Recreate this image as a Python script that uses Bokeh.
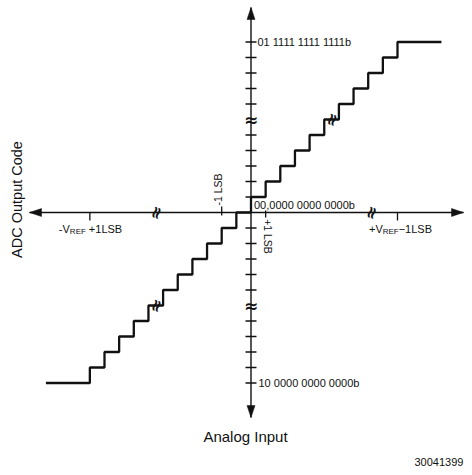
import math
from bokeh.plotting import figure
from bokeh.models import Range1d
from bokeh.embed import file_html
from bokeh.resources import INLINE
from bokeh.core.properties import value

# ---------------- data (schematic units: x in LSB steps, y in codes) ----------------
step_x = [-14, -11, -10, -9, -8, -7, -6, -5, -4, -3, -2, -1, 0, 1, 2, 3, 4, 5, 6, 7, 8, 9, 10, 13]
step_code = [-11, -10, -9, -8, -7, -6, -5, -4, -3, -2, -1, 0, 1, 2, 3, 4, 5, 6, 7, 8, 9, 10, 11, 11]

code_ticks = [-11, -10, -9, -8, -7, -5, -4, -3, -2, -1, 1, 2, 3, 4, 5, 7, 8, 9, 10, 11]
code_labels = ["01 1111 1111 1111b", "00,0000 0000 0000b", "10 0000 0000 0000b"]
code_label_levels = [11, 0, -11]

input_ticks = [-11, -2, 1, 10]

axis_break_x = [-6.5, 8.2]
axis_break_code = [6, -6]
line_break_x = [5.5, -6.5]
line_break_code = [6, -6]

# ---------------- layout ----------------
W, H = 464, 467
SX, SY = 14.65, 15.5          # px per unit
OX, OY = 250.5, 212.0          # origin in plot px (from left / top)

def ux(px):   # plot px -> x data
    return (px - OX) / SX

def uy(py):   # plot px (from top) -> y data
    return (OY - py) / SY

p = figure(width=W, height=H, output_backend="svg", toolbar_location=None,
           x_range=Range1d(ux(0), ux(W)), y_range=Range1d(uy(H), uy(0)),
           min_border=0, min_border_left=0, min_border_right=0,
           min_border_top=0, min_border_bottom=0)
p.axis.visible = False
p.grid.visible = False
p.outline_line_color = None
p.background_fill_color = "white"
p.border_fill_color = "white"

FONT = value("Liberation Sans")
BLACK = "#111111"

# ---- axes lines ----
left_tip, right_tip = ux(29), ux(463)
top_tip, bot_tip = uy(7), uy(417)
p.segment(x0=[left_tip], y0=[0], x1=[right_tip], y1=[0], line_color=BLACK, line_width=1.4)
p.segment(x0=[0], y0=[bot_tip], x1=[0], y1=[top_tip], line_color=BLACK, line_width=1.4)

# arrowheads
L, HW = 12, 4
p.patches(
    xs=[[0, -HW / SX, HW / SX], [0, -HW / SX, HW / SX],
        [left_tip, left_tip + L / SX, left_tip + L / SX],
        [right_tip, right_tip - L / SX, right_tip - L / SX]],
    ys=[[top_tip, top_tip - L / SY, top_tip - L / SY],
        [bot_tip, bot_tip + L / SY, bot_tip + L / SY],
        [0, HW / SY, -HW / SY], [0, HW / SY, -HW / SY]],
    fill_color=BLACK, line_color=BLACK, line_width=0.5)

# ---- vertical axis ticks ----
p.segment(x0=[-5.5 / SX] * len(code_ticks), x1=[5.5 / SX] * len(code_ticks),
          y0=code_ticks, y1=code_ticks, line_color=BLACK, line_width=1.3)

# ---- horizontal axis ticks ----
tick_up = [0, 6, 2, 0]
tick_dn = [8, 3, 5, 8]
p.segment(x0=input_ticks, x1=input_ticks,
          y0=[u / SY for u in tick_up], y1=[-d / SY for d in tick_dn],
          line_color=BLACK, line_width=1.3)

# ---- transfer function ----
p.step(x=step_x, y=step_code, mode="after", line_color=BLACK, line_width=2.3)

# ---- break symbols ----
SQ = dict(text_font=value("DejaVu Sans"), text_font_size="17px", text_font_style="bold",
          text_align="center", text_baseline="middle", text_color=BLACK)
p.text(x=[0, 0], y=axis_break_code, text=["\u2248", "\u2248"], **SQ)
p.text(x=axis_break_x, y=[0, 0], text=["\u2248", "\u2248"], angle=1.25, **SQ)
p.text(x=line_break_x, y=line_break_code, text=["\u2248", "\u2248"], angle=1.25, **SQ)

# ---- code labels ----
p.text(x=[0, 0, 0], y=code_label_levels, text=code_labels,
       x_offset=[6.5, 3, 7.5], y_offset=[0, -8, 0],
       text_font=FONT, text_font_size="11px", text_align="left", text_baseline="middle",
       text_color=BLACK)

# ---- VREF labels (with subscript) ----
vref_x = [input_ticks[0], input_ticks[3]]
p.text(x=vref_x, y=[0, 0], text=["-V", "+V"], x_offset=[-31, -28.5], y_offset=[16.5, 16.5],
       text_font=FONT, text_font_size="11px", text_align="left", text_baseline="middle",
       text_color=BLACK)
p.text(x=vref_x, y=[0, 0], text=["REF", "REF"], x_offset=[-20, -14.8], y_offset=[18.5, 18.5],
       text_font=FONT, text_font_size="8px", text_align="left", text_baseline="middle",
       text_color=BLACK)
p.text(x=vref_x, y=[0, 0], text=["+1LSB", "\u22121LSB"], x_offset=[-1, 1.2], y_offset=[16.5, 16.5],
       text_font=FONT, text_font_size="11px", text_align="left", text_baseline="middle",
       text_color=BLACK)

# ---- +/-1 LSB labels (rotated) ----
p.text(x=[input_ticks[1]], y=[0], text=["-1 LSB"], x_offset=[-3.5], y_offset=[-23],
       angle=math.pi / 2, text_font=FONT, text_font_size="10.5px", text_align="center",
       text_baseline="middle", text_color=BLACK)
p.text(x=[input_ticks[2]], y=[0], text=["+1 LSB"], x_offset=[2.5], y_offset=[24],
       angle=-math.pi / 2, text_font=FONT, text_font_size="10.5px", text_align="center",
       text_baseline="middle", text_color=BLACK)

# ---- titles ----
p.text(x=[ux(16)], y=[uy(199)], text=["ADC Output Code"], angle=math.pi / 2,
       text_font=FONT, text_font_size="14.5px", text_align="center", text_baseline="middle",
       text_color=BLACK)
p.text(x=[ux(245)], y=[uy(436)], text=["Analog Input"],
       text_font=FONT, text_font_size="15px", text_align="center", text_baseline="middle",
       text_color=BLACK)
p.text(x=[ux(414)], y=[uy(461)], text=["30041399"],
       text_font=FONT, text_font_size="11px", text_align="left", text_baseline="middle",
       text_color=BLACK)

open("out.html", "w").write(file_html(p, INLINE))
